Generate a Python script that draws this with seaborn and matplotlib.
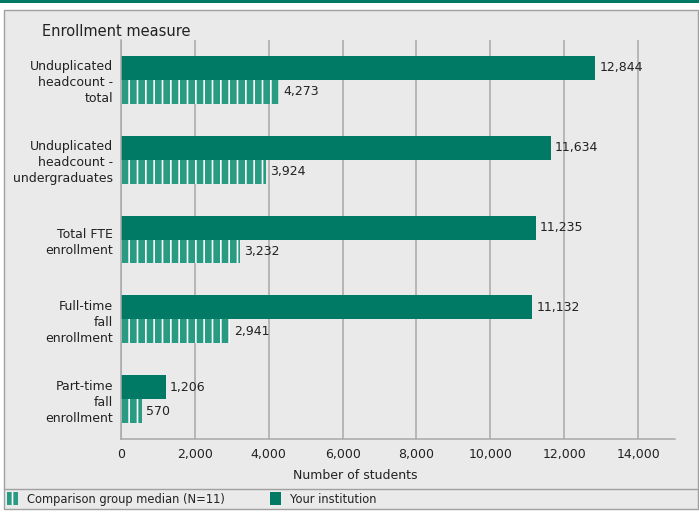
import matplotlib.pyplot as plt
import pandas as pd
import seaborn as sns
from matplotlib.lines import Line2D
from matplotlib.patches import Patch, Rectangle

# Enrollment measures, institution vs comparison group median.
categories = [
    "Unduplicated\nheadcount -\ntotal",
    "Unduplicated\nheadcount -\nundergraduates",
    "Total FTE\nenrollment",
    "Full-time\nfall\nenrollment",
    "Part-time\nfall\nenrollment",
]
institution = [12844, 11634, 11235, 11132, 1206]
median = [4273, 3924, 3232, 2941, 570]
x_ticks = [0, 2000, 4000, 6000, 8000, 10000, 12000, 14000]

inst_label = "Your institution"
med_label = "Comparison group median (N=11)"

solid = "#007A64"
stripe = "#2A9B83"
bg = "#EAEAEA"
line_gray = "#A8A8A8"
text_col = "#222222"

df = pd.DataFrame({
    "measure": categories * 2,
    "students": institution + median,
    "group": [inst_label] * len(categories) + [med_label] * len(categories),
})

sns.set_style("white")
plt.rcParams["font.family"] = ["DejaVu Sans"]
plt.rcParams["hatch.linewidth"] = 1.2

W, H = 699, 512
fig = plt.figure(figsize=(W / 100, H / 100), dpi=100, facecolor="white")


def fx(px):
    return px / W


def fy(py):
    return 1 - py / H


# Page decorations: top band, grey panel, legend separator (kept behind the axes).
fig.patches.append(Rectangle((0, fy(3)), 1, 3 / H, transform=fig.transFigure,
                             facecolor=solid, edgecolor="none", zorder=-5))
fig.patches.append(Rectangle((fx(4), fy(509)), (698 - 4) / W, (509 - 10) / H,
                             transform=fig.transFigure, facecolor=bg,
                             edgecolor="#A0A0A0", linewidth=1, zorder=-5))
fig.lines.append(Line2D([fx(4), fx(698)], [fy(489), fy(489)], transform=fig.transFigure,
                        color="#A0A0A0", linewidth=1, zorder=-4))

ax = fig.add_axes([fx(121), fy(439), (675 - 121) / W, (439 - 40) / H])
ax.set_facecolor(bg)

sns.barplot(data=df, y="measure", x="students", hue="group",
            hue_order=[inst_label, med_label], palette=[solid, stripe],
            width=0.6, saturation=1, orient="h", errorbar=None,
            legend=False, ax=ax)

for bar in ax.containers[0]:
    bar.set_linewidth(0)
for bar in ax.containers[1]:
    bar.set_facecolor(stripe)
    bar.set_edgecolor("white")
    bar.set_linewidth(0)
    bar.set_hatch("||")

ax.bar_label(ax.containers[0], labels=[f"{v:,}" for v in institution],
             padding=3, fontsize=9, color=text_col)
ax.bar_label(ax.containers[1], labels=[f"{v:,}" for v in median],
             padding=3, fontsize=9, color=text_col)

ax.set_xlim(0, 15000)
ax.set_xticks(x_ticks)
ax.set_xticklabels([f"{t:,}" for t in x_ticks])
ax.grid(axis="x", color=line_gray, linewidth=1.1)
ax.grid(axis="y", visible=False)
ax.set_axisbelow(True)

for side in ["top", "right"]:
    ax.spines[side].set_visible(False)
for side in ["left", "bottom"]:
    ax.spines[side].set_color(line_gray)
    ax.spines[side].set_linewidth(1.1)

ax.tick_params(axis="x", length=5, width=1.1, color=line_gray, pad=1.5,
               labelsize=9, labelcolor=text_col)
ax.tick_params(axis="y", length=4.5, width=1, color=line_gray, pad=1,
               labelsize=9, labelcolor=text_col)
for lab in ax.get_yticklabels():
    lab.set_linespacing(1.3)
    lab.set_horizontalalignment("right")
    lab.set_multialignment("right")

ax.set_ylabel("")
ax.set_xlabel("Number of students", fontsize=9, color=text_col)
ax.xaxis.set_label_coords((355 - 121) / (675 - 121), (439 - 469) / (439 - 40))

fig.text(fx(42), fy(32), "Enrollment measure", fontsize=10.5, color=text_col,
         ha="left", va="center")

# Legend entries sit far apart, so place them separately.
med_handle = Patch(facecolor=stripe, edgecolor="white", linewidth=0, hatch="||")
inst_handle = Patch(facecolor=solid, edgecolor="none")
for handle, label, left in [(med_handle, med_label, 7), (inst_handle, inst_label, 270)]:
    fig.legend(handles=[handle], labels=[label], loc="center left",
               bbox_to_anchor=(fx(left), fy(499)), frameon=False, fontsize=8.3,
               handlelength=0.95, handleheight=1.3, handletextpad=0.75,
               borderpad=0, borderaxespad=0, labelcolor=text_col)

fig.savefig("out.png", dpi=100)
